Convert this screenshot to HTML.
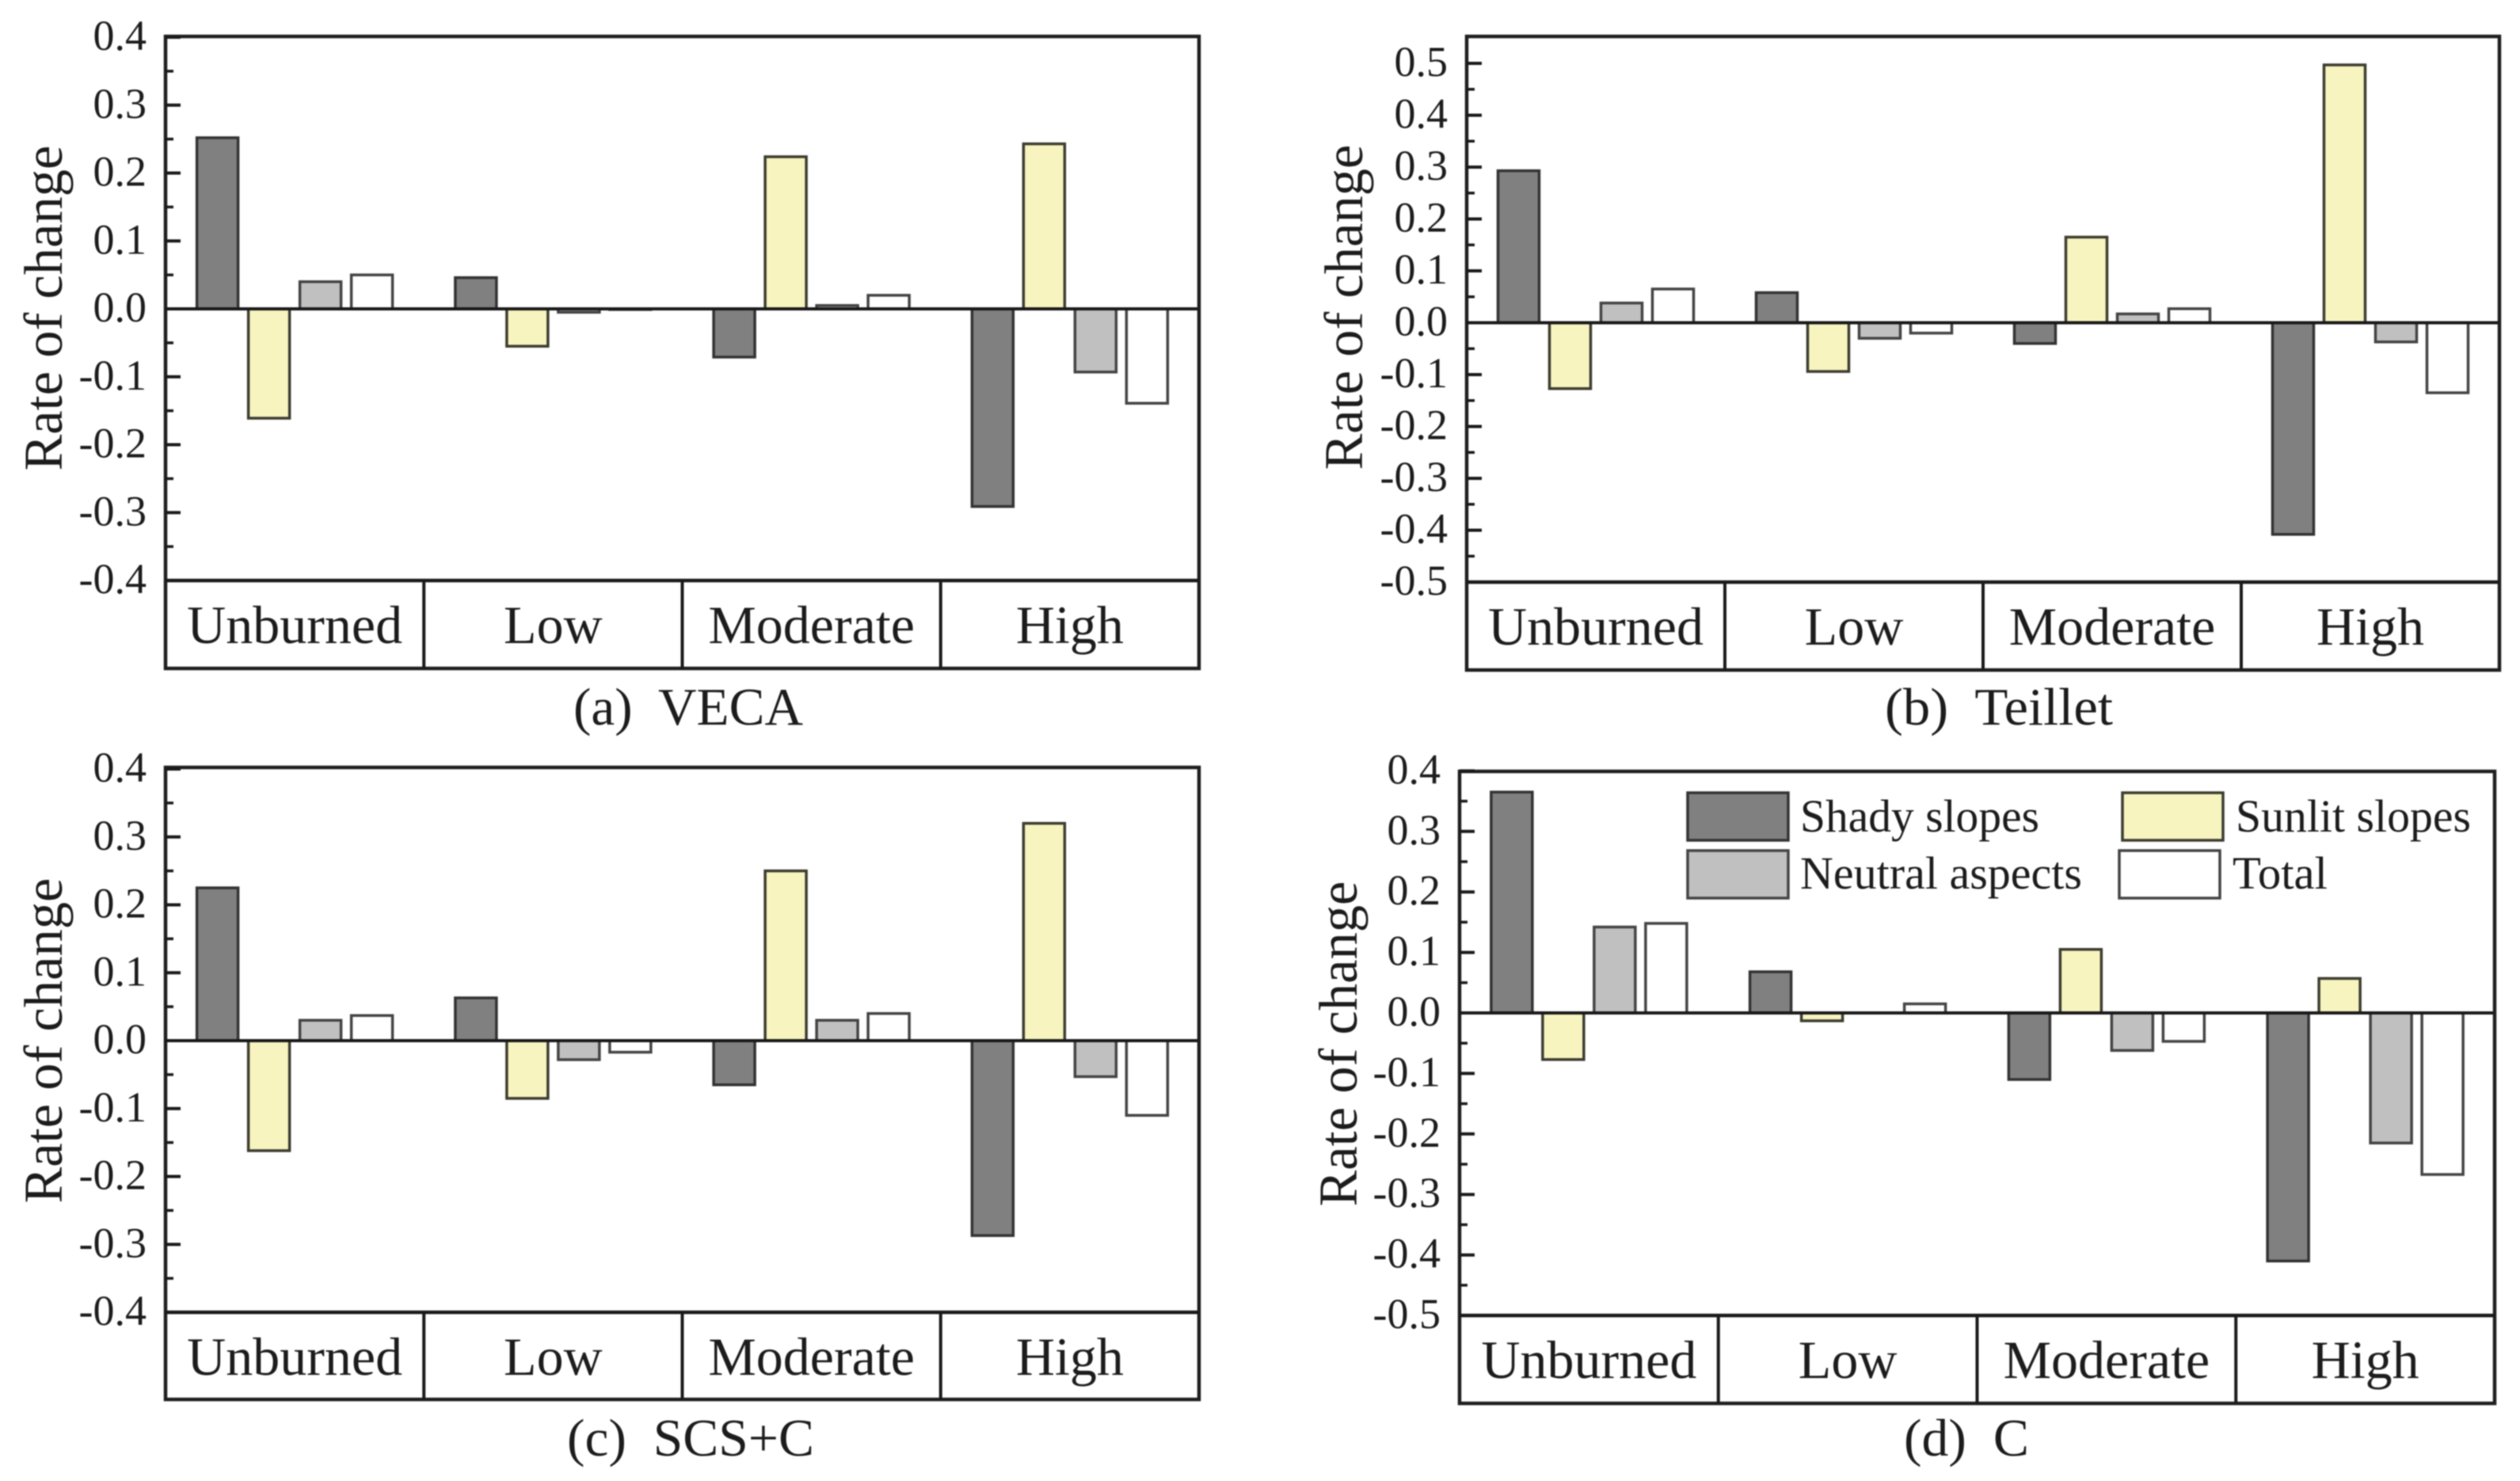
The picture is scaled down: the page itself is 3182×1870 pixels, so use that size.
<!DOCTYPE html>
<html lang="en">
<head>
<meta charset="utf-8">
<title>Rate of change by burn severity</title>
<style>
html,body{margin:0;padding:0;background:#fff;width:3182px;height:1870px;overflow:hidden}
svg{display:block;filter:blur(0.9px)}
text{font-family:"Liberation Serif",serif;fill:#1c1c1c}
</style>
</head>
<body>
<svg id="chart" xmlns="http://www.w3.org/2000/svg" width="3182" height="1870" viewBox="0 0 3182 1870">
<rect width="3182" height="1870" fill="#fff"/>
</svg>
<script>
const categories = ['Unburned', 'Low', 'Moderate', 'High'];
const seriesNames = ['Shady slopes', 'Sunlit slopes', 'Neutral aspects', 'Total'];

const ticksA = ['0.4', '0.3', '0.2', '0.1', '0.0', '-0.1', '-0.2', '-0.3', '-0.4'];
const ticksB = ['0.5', '0.4', '0.3', '0.2', '0.1', '0.0', '-0.1', '-0.2', '-0.3', '-0.4', '-0.5'];
const ticksC = ['0.4', '0.3', '0.2', '0.1', '0.0', '-0.1', '-0.2', '-0.3', '-0.4'];
const ticksD = ['0.4', '0.3', '0.2', '0.1', '0.0', '-0.1', '-0.2', '-0.3', '-0.4', '-0.5'];

const vecaShady = [0.252, 0.046, -0.071, -0.291];
const vecaSunlit = [-0.161, -0.055, 0.224, 0.243];
const vecaNeutral = [0.04, -0.005, 0.005, -0.093];
const vecaTotal = [0.05, -0.001, 0.02, -0.139];

const teilletShady = [0.293, 0.058, -0.04, -0.408];
const teilletSunlit = [-0.127, -0.094, 0.165, 0.497];
const teilletNeutral = [0.038, -0.03, 0.017, -0.037];
const teilletTotal = [0.065, -0.02, 0.027, -0.135];

const scsShady = [0.225, 0.063, -0.065, -0.287];
const scsSunlit = [-0.162, -0.085, 0.25, 0.32];
const scsNeutral = [0.03, -0.028, 0.03, -0.053];
const scsTotal = [0.037, -0.017, 0.04, -0.11];

const cShady = [0.365, 0.068, -0.11, -0.41];
const cSunlit = [-0.077, -0.013, 0.105, 0.057];
const cNeutral = [0.142, 0, -0.062, -0.215];
const cTotal = [0.148, 0.015, -0.047, -0.267];

const SVG_NS = 'http://www.w3.org/2000/svg';
const svg = document.getElementById('chart');
const seriesFill = ['#808080', '#f7f4bf', '#c0c0c0', '#ffffff'];
const seriesStroke = ['#333333', '#3c3c30', '#444444', '#444444'];
const seriesSlug = ['shady', 'sunlit', 'neutral', 'total'];

function make(parent, tag, attrs, text) {
  const el = document.createElementNS(SVG_NS, tag);
  for (const k in attrs) el.setAttribute(k, attrs[k]);
  if (text !== undefined) el.textContent = text;
  parent.appendChild(el);
  return el;
}

function drawPanel(p) {
  const g = make(svg, 'g', {});
  
  

  const y = function (v) { return p.y0 + (p.yNeg - p.y0) * (v / p.vNeg); };
  const catW = (p.right - p.left) / categories.length;
  const catCenter = function (i) { return p.left + catW * (i + 0.5); };
  const barX = function (c, s) { return catCenter(c) + (s - 1.5) * 65 - 26; };

  p.series.forEach(function (vals, s) {
    vals.forEach(function (v, c) {
      const y1 = y(v);
      const bar = make(g, 'rect', {
        x: barX(c, s), y: Math.min(y1, p.y0), width: 52,
        height: Math.abs(y1 - p.y0),
        fill: seriesFill[s], stroke: seriesStroke[s], 'stroke-width': 3.5
      });
      
      
    });
  });

  const zero = make(g, 'line', { x1: p.left, x2: p.right, y1: p.y0, y2: p.y0, stroke: '#1a1a1a', 'stroke-width': 4 });
  
  

  const frame = make(g, 'rect', { x: p.left, y: p.top, width: p.right - p.left, height: p.lower - p.top, fill: 'none', stroke: '#1f1f1f', 'stroke-width': 4.5 });
  
  

  const sep = make(g, 'line', { x1: p.left, x2: p.right, y1: p.bottom, y2: p.bottom, stroke: '#1a1a1a', 'stroke-width': 4.5 });
  
  

  p.ticks.forEach(function (label, i) {
    const v = parseFloat(label);
    const ty = y(v);
    const tick = make(g, 'line', { x1: p.left, x2: p.left + 19, y1: ty, y2: ty, stroke: '#1a1a1a', 'stroke-width': 4 });
    
    
    const txt = make(g, 'text', { x: p.left - 24, y: ty + 16, 'font-size': 54, 'text-anchor': 'end' }, label);
    
    
    if (i < p.ticks.length - 1) {
      const mv = (v + parseFloat(p.ticks[i + 1])) / 2;
      const minor = make(g, 'line', { x1: p.left, x2: p.left + 10, y1: y(mv), y2: y(mv), stroke: '#1a1a1a', 'stroke-width': 3.5 });
      
      
    }
  });

  categories.forEach(function (name, c) {
    if (c > 0) {
      const dx = p.left + catW * c;
      const div = make(g, 'line', { x1: dx, x2: dx, y1: p.bottom, y2: p.lower, stroke: '#1a1a1a', 'stroke-width': 4 });
      
      
    }
    const lab = make(g, 'text', { x: catCenter(c), y: p.bottom + 79, 'font-size': 68, 'text-anchor': 'middle' }, name);
    
    
  });

  const title = make(g, 'text', { x: 0, y: 0, 'font-size': 68.5, 'text-anchor': 'middle', transform: 'translate(' + p.titleX + ' ' + p.titleY + ') rotate(-90)' }, 'Rate of change');
  
  

  const cap = make(g, 'text', { x: p.capX, y: p.capY, 'font-size': 67, 'text-anchor': 'middle', textLength: p.capW, lengthAdjust: 'spacingAndGlyphs', style: 'white-space:pre' }, p.caption);
  
  
}

drawPanel({ key: 'a', series: [vecaShady, vecaSunlit, vecaNeutral, vecaTotal], ticks: ticksA, vNeg: -0.4,
  left: 209, right: 1514, top: 46, bottom: 733, lower: 844, y0: 390, yNeg: 733,
  titleX: 78, titleY: 389, capX: 869, capY: 915, capW: 290, caption: '(a)  VECA' });
drawPanel({ key: 'b', series: [teilletShady, teilletSunlit, teilletNeutral, teilletTotal], ticks: ticksB, vNeg: -0.5,
  left: 1852, right: 3156, top: 46, bottom: 735, lower: 846, y0: 407.5, yNeg: 735,
  titleX: 1720, titleY: 388, capX: 2524, capY: 915, capW: 288, caption: '(b)  Teillet' });
drawPanel({ key: 'c', series: [scsShady, scsSunlit, scsNeutral, scsTotal], ticks: ticksC, vNeg: -0.4,
  left: 209, right: 1514, top: 969, bottom: 1657, lower: 1767, y0: 1314, yNeg: 1657,
  titleX: 78, titleY: 1314, capX: 872, capY: 1838, capW: 312, caption: '(c)  SCS+C' });
drawPanel({ key: 'd', series: [cShady, cSunlit, cNeutral, cTotal], ticks: ticksD, vNeg: -0.5,
  left: 1843, right: 3150, top: 974, bottom: 1661, lower: 1772, y0: 1279, yNeg: 1661,
  titleX: 1713, titleY: 1318, capX: 2483, capY: 1838, capW: 158, caption: '(d)  C' });

const legend = make(svg, 'g', {});



function legendEntry(s, sx, sy, tx, ty, tw) {
  const sw = make(legend, 'rect', { x: sx, y: sy, width: 127, height: 60, fill: seriesFill[s], stroke: seriesStroke[s], 'stroke-width': 3.5 });
  
  
  const t = make(legend, 'text', { x: tx, y: ty, 'font-size': 58, textLength: tw, lengthAdjust: 'spacingAndGlyphs' }, seriesNames[s]);
  
  
}
legendEntry(0, 2131, 1001, 2273, 1050, 302);
legendEntry(1, 2680, 1001, 2823, 1050, 297);
legendEntry(2, 2131, 1074, 2273, 1122, 356);
legendEntry(3, 2676, 1074, 2819, 1122, 120);
</script>
</body>
</html>
